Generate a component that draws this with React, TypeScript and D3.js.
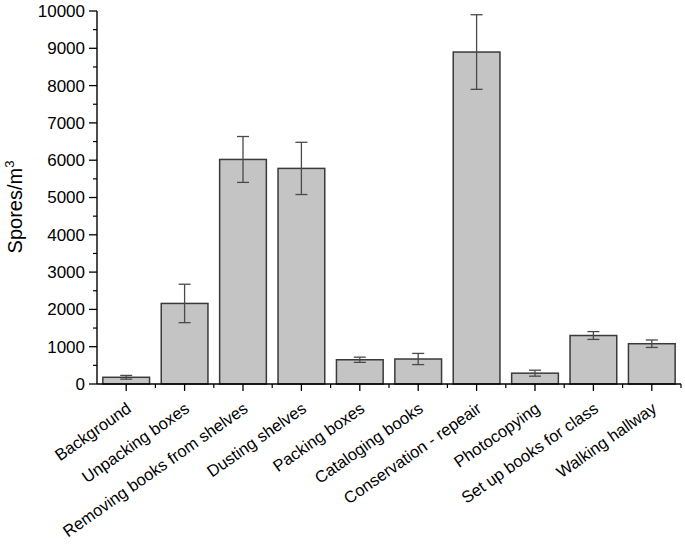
import React from "react";
import * as d3 from "d3";

const categories = [
  "Background",
  "Unpacking boxes",
  "Removing books from shelves",
  "Dusting shelves",
  "Packing boxes",
  "Cataloging books",
  "Conservation - repeair",
  "Photocopying",
  "Set up books for class",
  "Walking hallway",
];
const means = [180, 2160, 6020, 5780, 650, 670, 8900, 290, 1300, 1080];
const errors = [50, 515, 615, 700, 70, 150, 1000, 80, 105, 100];
const yTicks = [0, 1000, 2000, 3000, 4000, 5000, 6000, 7000, 8000, 9000, 10000];

const W = 685;
const H = 544;
const left = 97;
const right = 681;
const top = 11;
const bottom = 384;

export default function App() {
  const x = d3.scaleBand<string>().domain(categories).range([left, right]).paddingInner(0.2).paddingOuter(0.1);
  const xb = d3.scaleBand<string>().domain(categories).range([left, right]);
  const y = d3.scaleLinear().domain([0, 10000]).range([bottom, top]);
  const minor = d3.range(500, 10000, 1000);
  const font = "Liberation Sans, Arial, sans-serif";
  const capW = 6;

  return (
    <svg width={W} height={H} style={{ position: "absolute", left: 0, top: 0, background: "#fff" }} fontFamily={font}>
      {categories.map((c, i) => (
        <g key={c}>
          <rect
            x={x(c)!}
            y={y(means[i])}
            width={x.bandwidth()}
            height={bottom - y(means[i])}
            fill="#c4c4c4"
            stroke="#3a3a3a"
            strokeWidth={1.5}
          />
          {(() => {
            const cx = xb(c)! + xb.bandwidth() / 2;
            const y1 = y(means[i] + errors[i]);
            const y2 = y(means[i] - errors[i]);
            return (
              <g stroke="#4a4a4a" strokeWidth={1.3}>
                <line x1={cx} x2={cx} y1={y1} y2={y2} />
                <line x1={cx - capW} x2={cx + capW} y1={y1} y2={y1} />
                <line x1={cx - capW} x2={cx + capW} y1={y2} y2={y2} />
              </g>
            );
          })()}
        </g>
      ))}
      {/* y axis */}
      <line x1={left} x2={left} y1={top} y2={bottom} stroke="#000" strokeWidth={1.4} />
      {yTicks.map((t) => (
        <g key={t}>
          <line x1={left - 8} x2={left} y1={y(t)} y2={y(t)} stroke="#000" strokeWidth={1.3} />
          <text x={left - 12} y={y(t)} dy="0.35em" textAnchor="end" fontSize={17} fill="#000">
            {t}
          </text>
        </g>
      ))}
      {minor.map((t) => (
        <line key={t} x1={left - 4} x2={left} y1={y(t)} y2={y(t)} stroke="#000" strokeWidth={1.2} />
      ))}
      <text
        transform={`translate(22, 207) rotate(-90)`}
        textAnchor="middle"
        fontSize={20}
        fill="#000"
      >
        Spores/m<tspan dy={-8} fontSize={13}>3</tspan>
      </text>
      {/* x axis */}
      <line x1={left} x2={right} y1={bottom} y2={bottom} stroke="#000" strokeWidth={1.4} />
      {categories.map((c, i) => {
        const cx = xb(c)! + xb.bandwidth() / 2;
        const bx = xb(c)! + xb.bandwidth();
        return (
          <g key={c}>
            <line x1={cx} x2={cx} y1={bottom} y2={bottom + 7} stroke="#000" strokeWidth={1.3} />
            <line x1={bx} x2={bx} y1={bottom} y2={bottom + 4} stroke="#000" strokeWidth={1.2} />
            <text
              transform={`translate(${cx + 6}, 411) rotate(-35)`}
              textAnchor="end"
              fontSize={16.5}
              fill="#000"
            >
              {c}
            </text>
          </g>
        );
      })}
    </svg>
  );
}
